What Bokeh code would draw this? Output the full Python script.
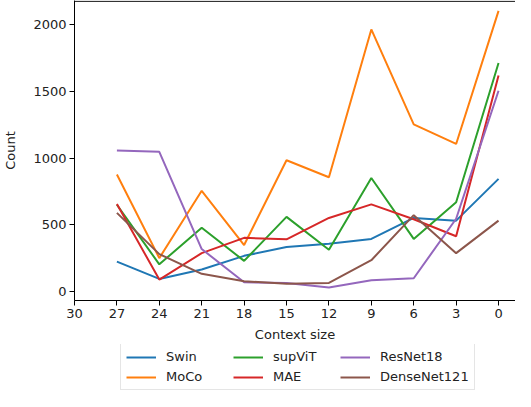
from bokeh.plotting import figure
from bokeh.layouts import column
from bokeh.models import Range1d, FixedTicker, Legend, LegendItem, Span
from bokeh.embed import file_html
from bokeh.resources import INLINE

context = [27, 24, 21, 18, 15, 12, 9, 6, 3, 0]
swin = [224, 94, 165, 267, 333, 358, 394, 551, 531, 844]
moco = [877, 250, 755, 348, 984, 856, 1965, 1253, 1106, 2104]
supvit = [650, 203, 478, 229, 559, 312, 851, 394, 669, 1713]
mae = [656, 89, 287, 402, 391, 551, 653, 541, 414, 1619]
resnet18 = [1057, 1047, 318, 69, 64, 30, 84, 99, 545, 1505]
densenet121 = [589, 280, 132, 76, 58, 64, 234, 572, 287, 531]

series = [
    ("Swin", swin, "#1f77b4"),
    ("MoCo", moco, "#ff7f0e"),
    ("supViT", supvit, "#2ca02c"),
    ("MAE", mae, "#d62728"),
    ("ResNet18", resnet18, "#9467bd"),
    ("DenseNet121", densenet121, "#8c564b"),
]
x_ticks = [30, 27, 24, 21, 18, 15, 12, 9, 6, 3, 0]
y_ticks = [0, 500, 1000, 1500, 2000]

FONT = "DejaVu Sans"

p = figure(width=515, height=344, output_backend="svg", toolbar_location=None,
           x_range=Range1d(30, -1.2), y_range=Range1d(-68, 2182),
           min_border_left=65, min_border_top=0, min_border_right=0, min_border_bottom=40)
p.outline_line_color = None
p.grid.visible = False
p.background_fill_color = "white"
p.border_fill_color = "white"

for name, vals, col in series:
    p.line(context, vals, line_color=col, line_width=2)

p.xaxis.ticker = FixedTicker(ticks=x_ticks)
p.yaxis.ticker = FixedTicker(ticks=y_ticks)
for ax in (p.xaxis, p.yaxis):
    ax.major_tick_out = 5
    ax.major_tick_in = 0
    ax.minor_tick_out = 0
    ax.minor_tick_in = 0
    ax.axis_line_color = "black"
    ax.major_tick_line_color = "black"
    ax.major_label_text_font = FONT
    ax.major_label_text_font_size = "13px"
    ax.major_label_text_color = "#222222"
    ax.major_label_standoff = 3
    ax.axis_label_text_font = FONT
    ax.axis_label_text_font_size = "13px"
    ax.axis_label_text_font_style = "normal"
    ax.axis_label_text_color = "#222222"
p.xaxis.axis_label = "Context size"
p.yaxis.axis_label = "Count"
p.xaxis.axis_label_standoff = 6
p.yaxis.axis_label_standoff = 12

top = Span(location=2176, dimension="width", line_color="black", line_width=1)
p.add_layout(top)

# legend panel below the chart (same series, drawn outside q's visible range)
q = figure(width=515, height=47, output_backend="svg", toolbar_location=None,
           x_range=Range1d(100, 101), y_range=Range1d(0, 1),
           x_axis_location=None, y_axis_location=None,
           min_border=0)
q.outline_line_color = None
q.grid.visible = False
keys = {}
for name, vals, col in series:
    keys[name] = q.line(context, vals, line_color=col, line_width=2)

order = ["Swin", "supViT", "ResNet18", "MoCo", "MAE", "DenseNet121"]
items = [LegendItem(label=n, renderers=[keys[n]]) for n in order]
legend = Legend(items=items, orientation="horizontal", ncols=3,
                location=(46, 1), label_text_font=FONT, label_text_font_size="13px",
                label_text_color="#222222",
                glyph_width=30, glyph_height=14, label_standoff=10,
                label_width=62, label_height=14,
                spacing=5, padding=5, margin=0,
                border_line_color="#cccccc", border_line_width=1)
q.add_layout(legend)

open("out.html", "w").write(file_html(column(p, q), INLINE))
